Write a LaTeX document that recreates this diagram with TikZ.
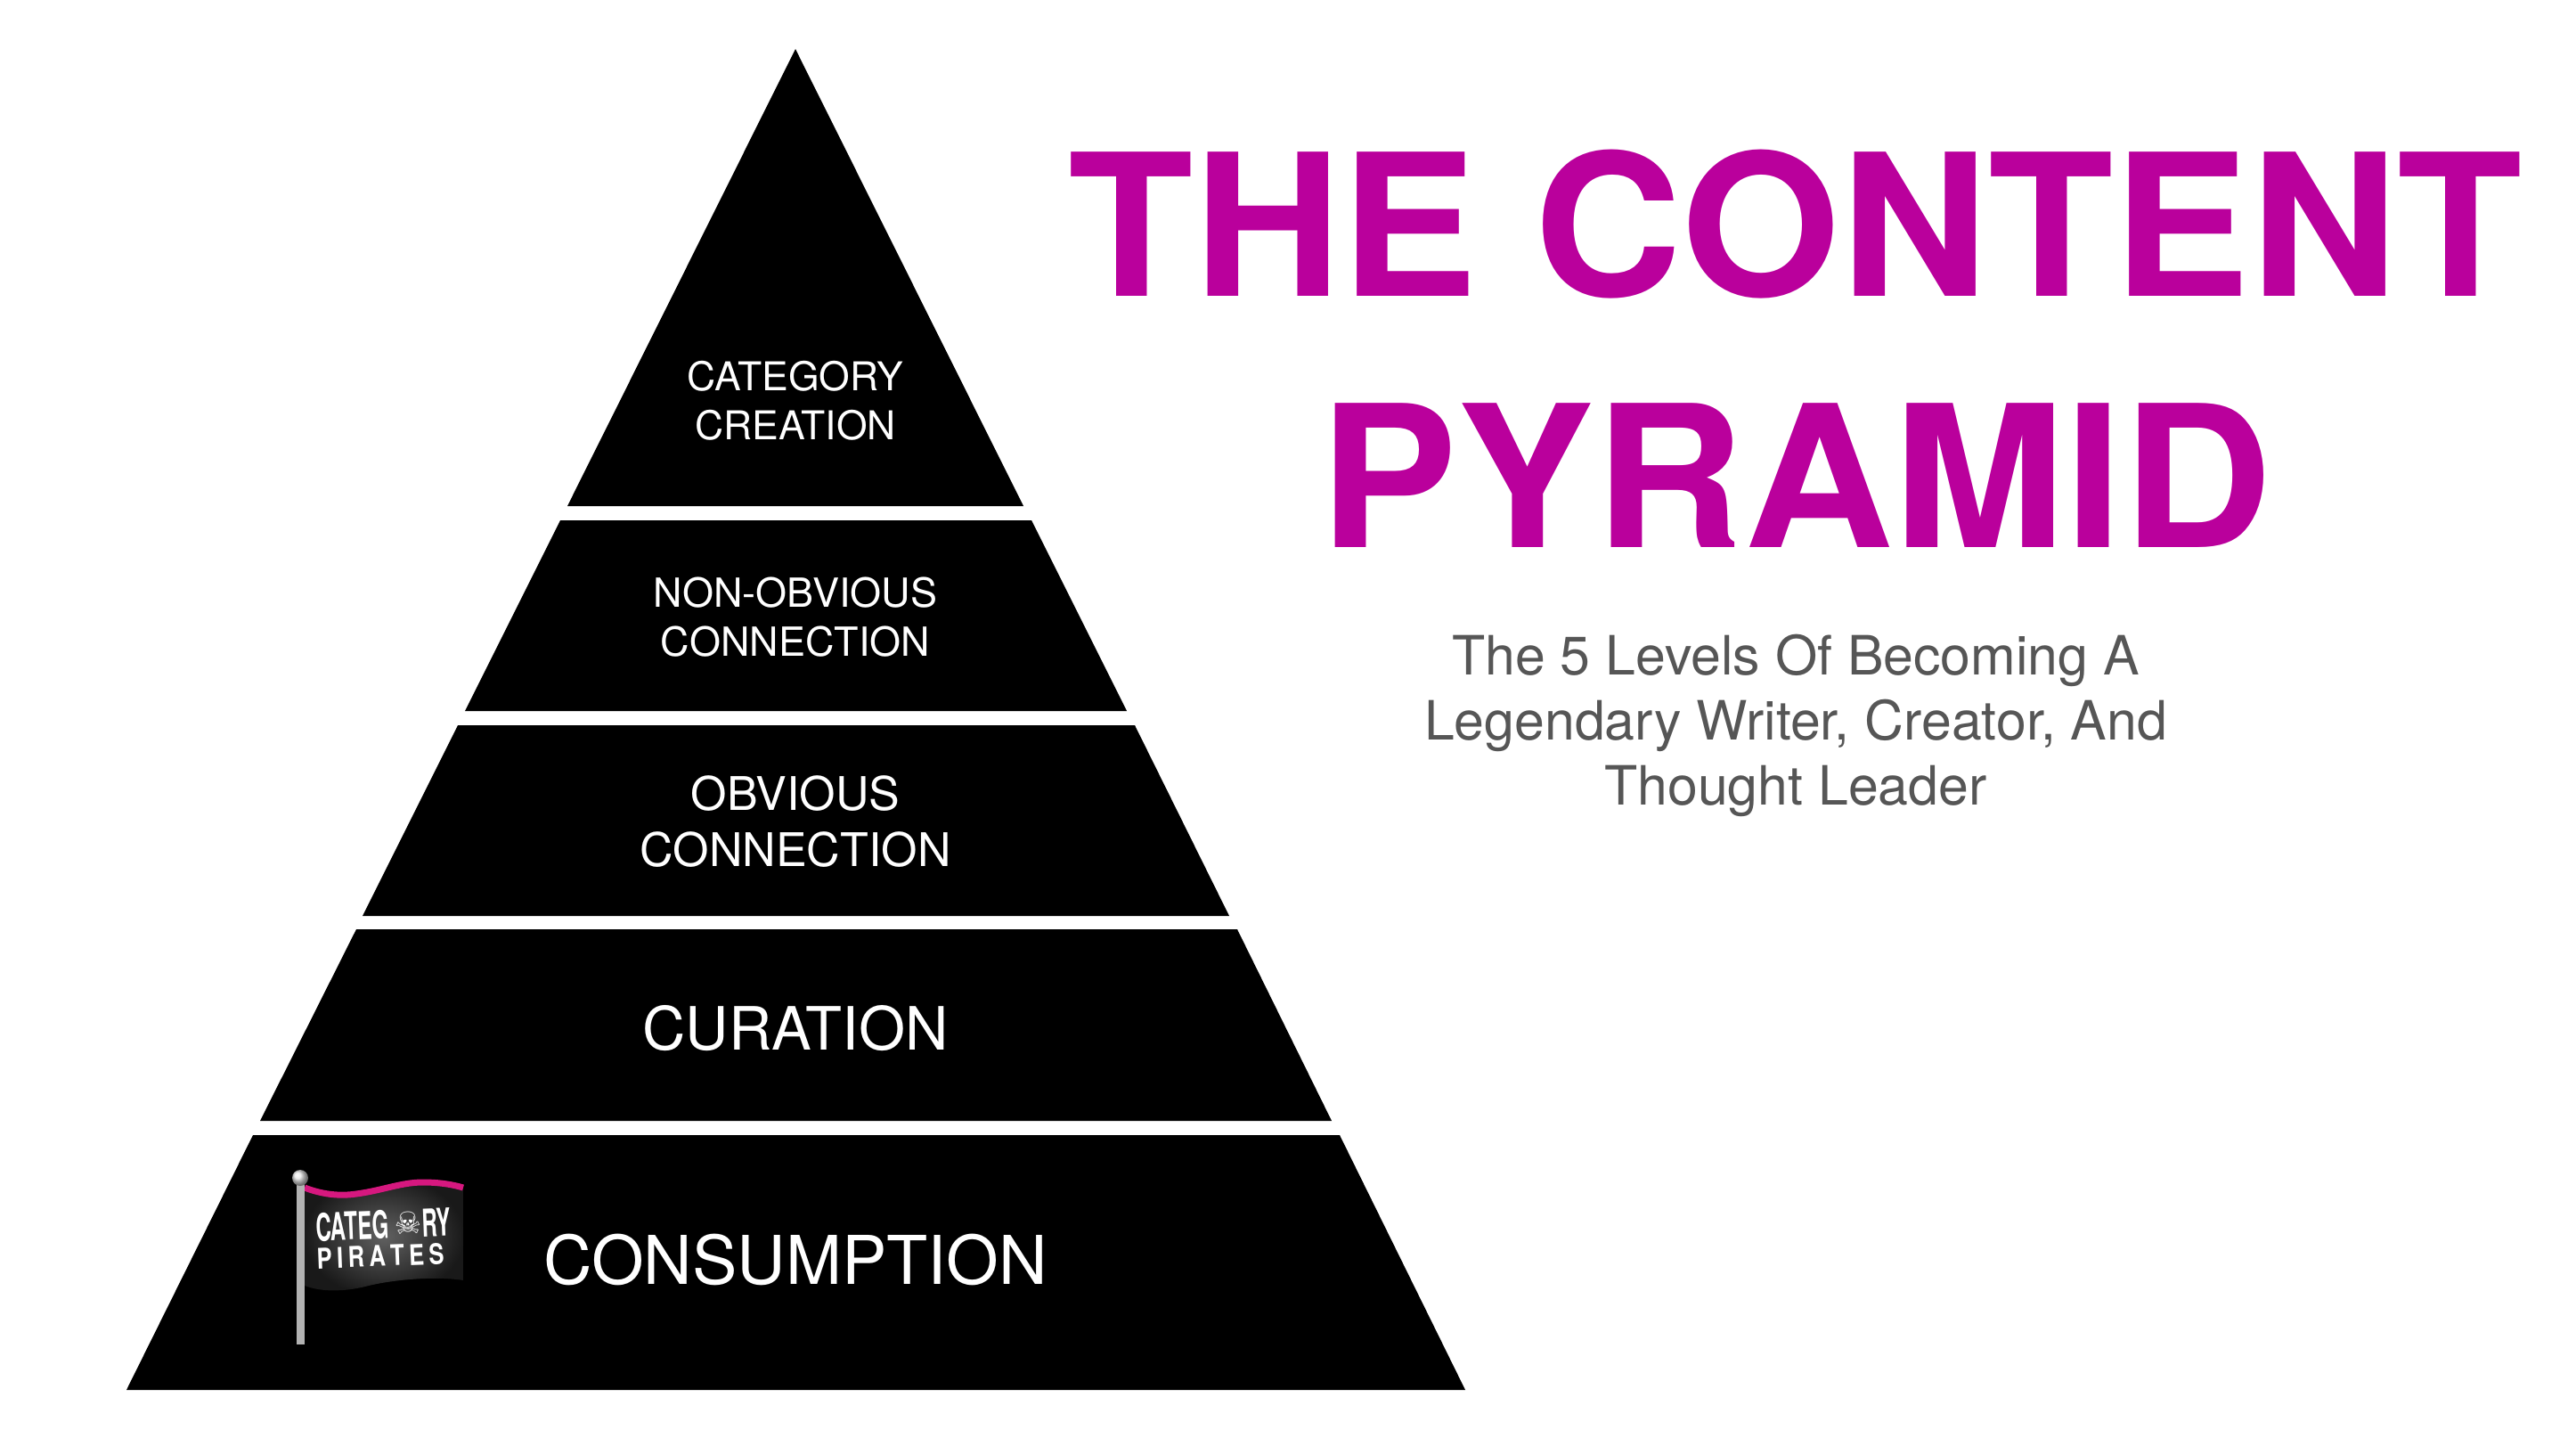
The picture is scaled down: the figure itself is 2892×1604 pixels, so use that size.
\documentclass[tikz,border=0pt]{standalone}
\usepackage{fontspec}
\setmainfont{TeX Gyre Heros}
\newfontfamily\condfont[FakeStretch=0.56]{TeX Gyre Heros}
\newfontfamily\wideflag[FakeStretch=0.8]{TeX Gyre Heros}
\newfontfamily\titleone[FakeStretch=1.035]{TeX Gyre Heros}
\newfontfamily\titletwo[FakeStretch=1.045]{TeX Gyre Heros}
\newfontfamily\symfont{DejaVu Sans}
\definecolor{titlemag}{HTML}{BA009C}
\definecolor{subgray}{HTML}{565656}
\definecolor{flagpink}{HTML}{D6187F}
\newcommand{\fsz}[2]{\fontsize{#1}{#2}\selectfont}
\tikzset{
  x=1pt,y=-1pt,
  tier/.style={fill=black,draw=none},
  tiertext/.style={text=white,align=center,inner sep=0pt,anchor=center},
  titletext/.style={text=titlemag,inner sep=0pt,anchor=base},
  subtext/.style={text=subgray,align=center,inner sep=0pt,anchor=center},
  flagtext/.style={text=white,inner sep=0pt,anchor=base,rotate=2.2},
}
\begin{document}
\begin{tikzpicture}
\useasboundingbox (0,0) rectangle (2892,1604);
% pyramid tiers
\fill[tier] (893,55) -- (1149,568) -- (637,568) -- cycle;
\fill[tier] (629,584) -- (1158,584) -- (1265,798) -- (522,798) -- cycle;
\fill[tier] (514,814) -- (1274,814) -- (1380,1028) -- (407,1028) -- cycle;
\fill[tier] (400,1043) -- (1389,1043) -- (1495,1258) -- (292,1258) -- cycle;
\fill[tier] (284,1274) -- (1504,1274) -- (1645,1560) -- (142,1560) -- cycle;
% tier labels
\node[tiertext,font=\fsz{44.5}{55}] (t1) at (893,450) {CATEGORY\\CREATION};
\node[tiertext,font=\fsz{45}{55}] (t2) at (893,693) {NON-OBVIOUS\\CONNECTION};
\node[tiertext,font=\fsz{52}{63}] (t3) at (893,922) {OBVIOUS\\CONNECTION};
\node[tiertext,font=\fsz{67}{70}] (t4) at (893,1154) {CURATION};
\node[tiertext,font=\fsz{75.5}{80}] (t5) at (893,1414) {CONSUMPTION};
% title
\node[titletext] (title1) at (2016,332) {\fsz{222}{222}\titleone\bfseries THE CONTENT};
\node[titletext] (title2) at (2016,614) {\fsz{222}{222}\titletwo\bfseries PYRAMID};
\node[subtext,font=\fsz{60.8}{73}] (sub) at (2016,814) {The 5 Levels Of Becoming A\\Legendary Writer, Creator, And\\Thought Leader};
% flag
\begin{scope}
\clip (342,1333) .. controls (360,1340) and (380,1343) .. (400,1340)
      .. controls (430,1336) and (450,1327) .. (475,1327)
      .. controls (495,1327) and (510,1330) .. (520,1333)
      -- (520,1437) .. controls (490,1432) and (440,1436) .. (410,1444)
      .. controls (385,1450) and (360,1450) .. (342,1443) -- cycle;
\shade[inner color=black!62,outer color=black!90] (342,1320) rectangle (520,1455);
\end{scope}
\draw[flagpink,line width=7pt] (342,1333) .. controls (360,1340) and (380,1343) .. (400,1340)
      .. controls (430,1336) and (450,1327) .. (475,1327)
      .. controls (495,1327) and (510,1330) .. (520,1333);
\fill[black!30] (333,1322) rectangle (342,1509);
\shade[ball color=black!10] (337,1322) circle (9);
\node[flagtext,anchor=base west] (cat) at (355,1393) {\fsz{43}{43}\condfont\bfseries CATEG};
\node[flagtext,anchor=base] (skull) at (459,1385) {\fsz{34}{34}\symfont ☠};
\node[flagtext,anchor=base west] (ry) at (474,1388) {\fsz{43}{43}\condfont\bfseries RY};
\node[flagtext,anchor=base west] (pir) at (356,1424) {\fsz{32}{32}\wideflag\bfseries P\,I\,R\,A\,T\,E\,S};
\end{tikzpicture}
\end{document}
